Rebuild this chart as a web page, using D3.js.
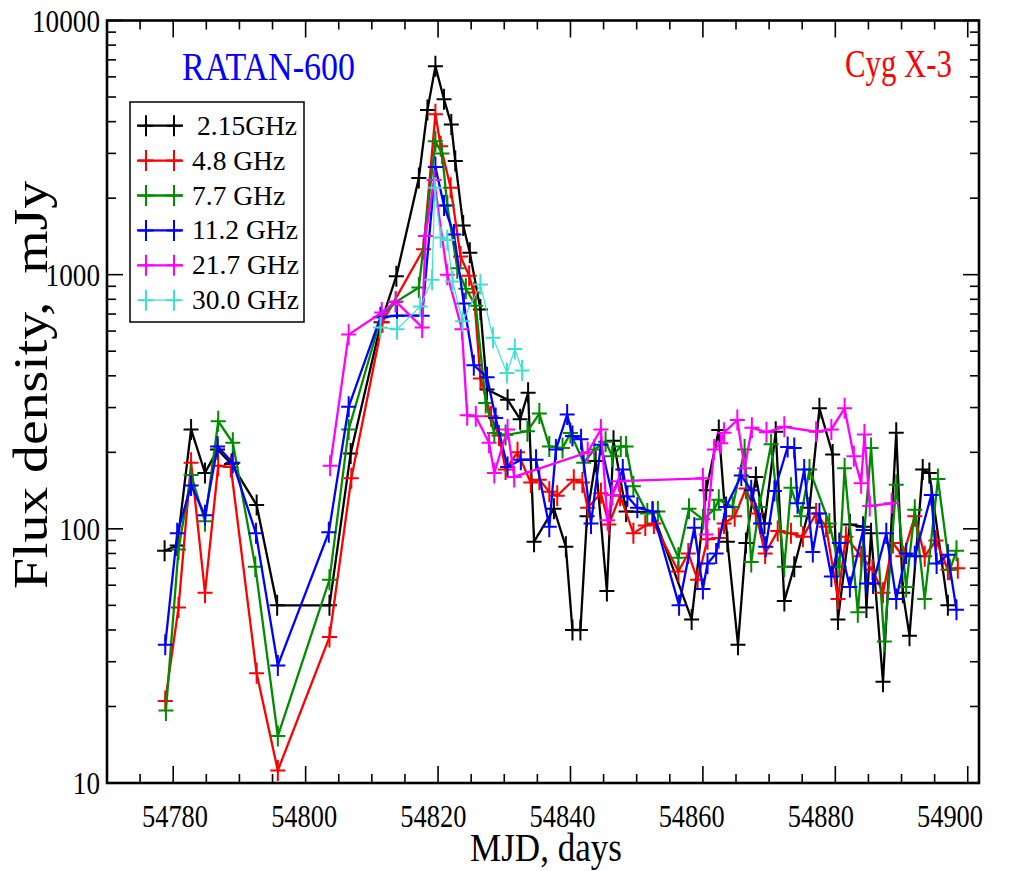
<!DOCTYPE html>
<html>
<head>
<meta charset="utf-8">
<script src="https://cdn.jsdelivr.net/npm/d3@7"></script>
<style>
html,body{margin:0;padding:0;background:#fff;}
svg{display:block;}
text{font-family:"Liberation Serif","Times New Roman",serif;}
</style>
</head>
<body>
<div id="chart"></div>
<script>
// ---------------- data ----------------
const seriesNames = ["2.15GHz", "4.8 GHz", "7.7 GHz", "11.2 GHz", "21.7 GHz", "30.0 GHz"];

const mjd215 = [54778.7,54780.6,54782.7,54784.8,54786.7,54788.8,54792.6,54795.7,54803.6,54806.8,54811.4,54813.7,54817.1,54818.4,54819.6,54820.9,54822.0,54822.6,54823.8,54824.8,54826.4,54827.4,54830.5,54832.4,54833.6,54834.5,54837.5,54839.3,54840.3,54841.5,54842.5,54843.8,54845.5,54846.5,54848.4,54852.4,54858.3,54860.5,54862.4,54863.7,54865.3,54866.5,54868.0,54869.3,54871.0,54872.3,54873.8,54876.1,54877.6,54879.6,54880.4,54882.2,54884.2,54884.7,54885.4,54887.2,54889.2,54890.2,54891.2,54893.2,54894.2,54897.0];
const flux215 = [82,86,246,166,205,180,124,50,50,198,650,986,2400,4450,6600,4900,3900,2800,1560,1220,730,353,322,270,343,89,120,85,40,40,112,185,57,222,117,116,44,142,245,89,35,88,160,105,241,52,71,121,298,196,44,104,102,49,96,25,239,56,38,171,166,50];

const mjd48 = [54778.8,54780.8,54782.7,54784.8,54786.8,54788.7,54792.6,54795.8,54803.6,54806.9,54811.6,54817.8,54819.6,54820.4,54821.9,54823.4,54824.7,54825.4,54826.4,54828.0,54829.2,54830.2,54832.0,54834.0,54835.3,54836.8,54838.0,54840.5,54841.8,54842.6,54844.6,54845.8,54847.5,54849.5,54851.3,54852.6,54856.3,54857.8,54859.2,54860.7,54862.4,54863.2,54864.8,54866.5,54868.0,54869.4,54871.3,54873.3,54875.1,54877.1,54878.6,54880.4,54881.6,54883.9,54885.6,54887.2,54888.7,54890.2,54892.0,54893.5,54895.2,54897.0,54898.5];
const flux48 = [21,49,182,56,177,175,27,11.2,37.5,158,650,1260,4280,3200,2200,1180,990,850,390,277,233,171,200,152,156,140,135,156,152,121,138,104,135,96,103,105,68,80,63,91,92,105,112,144,115,80,98,96,93,115,102,53,93,78,69,56,88,78,112,78,90,69,70];

const mjd77 = [54778.9,54780.8,54782.7,54784.8,54786.8,54789.0,54792.4,54795.8,54803.6,54806.5,54811.4,54813.6,54817.1,54819.6,54820.6,54821.4,54822.9,54824.2,54825.7,54827.2,54828.5,54830.2,54833.5,54835.3,54836.8,54838.8,54840.0,54842.0,54843.6,54845.3,54846.3,54847.6,54848.4,54849.5,54851.6,54853.2,54856.3,54857.9,54860.0,54861.7,54862.4,54864.5,54866.3,54867.3,54868.5,54870.3,54872.3,54873.3,54874.8,54876.1,54879.1,54880.6,54881.4,54883.4,54885.4,54887.4,54889.2,54890.7,54892.0,54893.5,54895.5,54897.3,54898.3];
const flux77 = [19.3,83,163,107,265,218,71,15.3,63,246,680,780,890,3350,3000,1870,1060,880,755,313,238,234,242,284,211,208,238,182,205,220,193,211,211,147,115,117,77,120,109,119,130,122,205,74,122,215,71,145,112,171,105,71,173,47,208,36,149,59,119,53,157,69,82];

const mjd112 = [54778.8,54780.6,54782.7,54784.8,54786.7,54789.0,54792.5,54795.8,54803.5,54806.5,54811.3,54813.8,54817.6,54819.6,54820.9,54822.4,54823.9,54825.4,54827.4,54828.7,54830.5,54832.5,54834.8,54836.8,54837.8,54839.5,54840.3,54841.6,54843.1,54844.6,54846.3,54847.9,54848.6,54850.1,54852.4,54856.4,54858.7,54860.0,54860.7,54862.0,54863.5,54865.8,54867.3,54868.7,54869.5,54870.8,54872.8,54873.8,54874.3,54875.3,54876.6,54877.6,54879.4,54880.6,54882.2,54884.2,54884.7,54885.7,54887.7,54889.2,54890.7,54892.0,54894.5,54895.3,54897.0,54898.3];
const flux112 = [35,96,148,113,211,182,96,29,97,302,680,690,690,2650,1870,1440,770,440,395,273,175,187,187,102,205,282,232,225,105,214,136,171,134,121,117,50,101,58,73,80,122,162,142,105,85,141,210,208,126,171,81,115,65,88,59,99,61,61,96,53,80,78,136,73,79,48];

const mjd217 = [54803.7,54806.5,54811.5,54813.6,54817.6,54818.1,54819.4,54821.4,54823.6,54824.4,54825.7,54827.7,54828.5,54830.5,54831.5,54842.6,54844.6,54845.6,54846.3,54847.3,54860.0,54860.5,54861.7,54862.7,54863.2,54865.2,54866.3,54867.4,54869.6,54872.3,54877.1,54879.4,54881.4,54882.8,54883.9,54884.4,54885.2,54888.5];
const flux217 = [177,581,710,785,620,1420,2360,1000,610,280,277,218,166,246,160,200,246,108,136,154,158,95,205,217,239,268,173,250,240,252,241,246,298,193,151,235,123,126];

const mjd300 = [54811.3,54813.8,54817.3,54819.1,54819.5,54820.4,54821.4,54822.2,54823.7,54826.4,54828.3,54830.4,54831.6,54832.7];
const flux300 = [620,610,750,955,2200,1400,1370,940,655,915,565,410,510,420];

const xTickValues = [54780, 54800, 54820, 54840, 54860, 54880, 54900];
const yTickValues = [10, 100, 1000, 10000];

// ---------------- styles ----------------
const seriesColors = ["#000000", "#ff0000", "#008b00", "#0000ff", "#ff00ff", "#40e0d0"];
const seriesLineW = [2.3, 2.3, 2.3, 2.3, 2.3, 1.2];

const allMjd = [mjd215, mjd48, mjd77, mjd112, mjd217, mjd300];
const allFlux = [flux215, flux48, flux77, flux112, flux217, flux300];
const series = seriesNames.map((name, i) => ({
  name, color: seriesColors[i], lw: seriesLineW[i],
  pts: allMjd[i].map((d, j) => ({x: d, y: allFlux[i][j]}))
}));

// ---------------- layout ----------------
const W = 1011, H = 871;
const L = 107, R = 979, T = 20.5, B = 783;

const svg = d3.select("#chart").append("svg").attr("width", W).attr("height", H);

const x = d3.scaleLinear().domain([54770, 54901.7]).range([L, R]);
const y = d3.scaleLog().domain([10, 10000]).range([B, T]);
// tick labels in the reference drift slightly left of their ticks
const xLab = d3.scaleLinear().domain([54780, 54900]).range([175, 950]);

function txt(g, s, px, py, size, anchor, len, color) {
  const t = g.append("text").attr("x", px).attr("y", py)
    .attr("font-size", size).attr("text-anchor", anchor)
    .attr("fill", color || "#000").text(s);
  if (len) t.attr("textLength", len).attr("lengthAdjust", "spacingAndGlyphs");
  return t;
}

// ticks
const minorX = d3.range(54775, 54901, 5).filter(v => v % 20 !== 0);
const minorY = [];
[10, 100, 1000].forEach(dec => { for (let k = 2; k <= 9; k++) minorY.push(dec * k); });

const tg = svg.append("g").attr("stroke", "#000").attr("stroke-width", 1.6);
xTickValues.forEach(v => {
  tg.append("line").attr("x1", x(v)).attr("x2", x(v)).attr("y1", B).attr("y2", B - 17);
  tg.append("line").attr("x1", x(v)).attr("x2", x(v)).attr("y1", T).attr("y2", T + 17);
});
minorX.forEach(v => {
  tg.append("line").attr("x1", x(v)).attr("x2", x(v)).attr("y1", B).attr("y2", B - 9);
  tg.append("line").attr("x1", x(v)).attr("x2", x(v)).attr("y1", T).attr("y2", T + 9);
});
yTickValues.forEach(v => {
  tg.append("line").attr("x1", L).attr("x2", L + 16).attr("y1", y(v)).attr("y2", y(v));
  tg.append("line").attr("x1", R).attr("x2", R - 16).attr("y1", y(v)).attr("y2", y(v));
});
minorY.forEach(v => {
  tg.append("line").attr("x1", L).attr("x2", L + 9).attr("y1", y(v)).attr("y2", y(v));
  tg.append("line").attr("x1", R).attr("x2", R - 9).attr("y1", y(v)).attr("y2", y(v));
});

// tick labels
const lab = svg.append("g");
xTickValues.forEach(v => txt(lab, String(v), xLab(v), B + 44, 31, "middle", 66));
yTickValues.forEach(v => {
  const s = String(v);
  txt(lab, s, 100, y(v) + 11, 32, "end", 13.6 * s.length);
});

// axis titles
txt(svg, "MJD, days", 546, 861, 41, "middle", 152);
svg.append("text")
  .attr("transform", `translate(47,${(180 + 590) / 2}) rotate(-90)`)
  .attr("font-size", 49).attr("text-anchor", "middle")
  .attr("textLength", 408).attr("lengthAdjust", "spacingAndGlyphs")
  .style("white-space", "pre")
  .text("Flux density,  mJy");

// annotations
txt(svg, "RATAN-600", 182, 80, 41, "start", 173, "#0000ff");
txt(svg, "Cyg X-3", 845, 77, 41, "start", 107, "#ff0000");

// series
const line = d3.line().x(d => x(d.x)).y(d => y(d.y));
const plot = svg.append("g");
const mw = 7.5, mh = 10.5;
series.forEach(s => {
  const g = plot.append("g");
  g.append("path").datum(s.pts).attr("d", line)
    .attr("fill", "none").attr("stroke", s.color).attr("stroke-width", s.lw)
    .attr("stroke-linejoin", "miter");
  g.selectAll("path.m").data(s.pts).enter().append("path").attr("class", "m")
    .attr("d", d => {
      const px = x(d.x), py = y(d.y);
      return `M${px - mw},${py}H${px + mw}M${px},${py - mh}V${py + mh}`;
    })
    .attr("stroke", s.color).attr("stroke-width", 2).attr("fill", "none");
});

// frame
svg.append("rect").attr("x", L).attr("y", T).attr("width", R - L).attr("height", B - T)
  .attr("fill", "none").attr("stroke", "#000").attr("stroke-width", 2.6);

// legend
const lg = svg.append("g");
lg.append("rect").attr("x", 130).attr("y", 102).attr("width", 174).attr("height", 220)
  .attr("fill", "#fff").attr("stroke", "#000").attr("stroke-width", 1.5);
series.forEach((s, i) => {
  const ly = 125.7 + i * 34.9;
  lg.append("line").attr("x1", 137).attr("x2", 183).attr("y1", ly).attr("y2", ly)
    .attr("stroke", s.color).attr("stroke-width", s.lw);
  [146, 174].forEach(mx => {
    lg.append("path").attr("d", `M${mx - mw},${ly}H${mx + mw}M${mx},${ly - mh}V${ly + mh}`)
      .attr("stroke", s.color).attr("stroke-width", 2);
  });
  txt(lg, s.name, i === 0 ? 197 : 192, ly + 9, 27.5, "start", null);
});
</script>
</body>
</html>
